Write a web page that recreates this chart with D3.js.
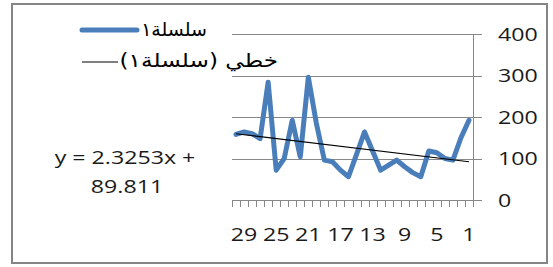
<!DOCTYPE html>
<html>
<head>
<meta charset="utf-8">
<script src="https://cdn.jsdelivr.net/npm/d3@7"></script>
<style>
  html, body { margin: 0; padding: 0; background: #fff; }
  svg { display: block; }
</style>
</head>
<body>
<svg id="chart" width="553" height="267"></svg>
<script>
// data (category 1 is on the right, axis reversed)
var categories = [1, 2, 3, 4, 5, 6, 7, 8, 9, 10, 11, 12, 13, 14, 15,
                  16, 17, 18, 19, 20, 21, 22, 23, 24, 25, 26, 27, 28, 29, 30];
var values = [192, 150, 96, 100, 114, 118, 56, 66, 80, 96, 84, 72, 118, 164, 110,
              56, 72, 92, 96, 185, 296, 104, 192, 100, 72, 284, 148, 160, 164, 158];
var xTickLabels = [29, 25, 21, 17, 13, 9, 5, 1];
var yTickLabels = [0, 100, 200, 300, 400];
var trendSlope = 2.3253;
var trendIntercept = 89.811;
var seriesName = "سلسلة١";
var trendName = "خطي (سلسلة١)";

var svg = d3.select("#chart");
var SX = 1.22; // the picture's text is a bit wider than the font
var numFont = "'Open Sans', sans-serif";
var arFont = "'DejaVu Sans', sans-serif";
var grey = "#878787";

var plot = { left: 232, right: 473, top: 34, bottom: 200 };

var x = d3.scaleLinear()
    .domain([categories.length + 0.5, 0.5])
    .range([plot.left, plot.right]);

var y = d3.scaleLinear()
    .domain([0, 400])
    .range([plot.bottom, plot.top]);

// outer frame
svg.append("rect")
    .attr("x", 12).attr("y", 4)
    .attr("width", 535).attr("height", 259)
    .attr("fill", "none")
    .attr("stroke", "#858585")
    .attr("stroke-width", 2);

function stretchedText(sel, tx, ty, str, size, anchor) {
    return sel.append("text")
        .attr("transform", "translate(" + tx + "," + ty + ") scale(" + SX + ",1)")
        .attr("text-anchor", anchor)
        .style("font-family", numFont)
        .style("font-size", size + "px")
        .attr("fill", "#1a1a1a")
        .text(str);
}

// gridlines
svg.selectAll(".grid")
    .data(yTickLabels.filter(function(d) { return d > 0; }))
    .enter().append("line")
    .attr("class", "grid")
    .attr("x1", plot.left).attr("x2", plot.right)
    .attr("y1", function(d) { return Math.round(y(d)) + 0.5; })
    .attr("y2", function(d) { return Math.round(y(d)) + 0.5; })
    .attr("stroke", grey)
    .attr("stroke-width", 1);

// right value axis
svg.append("line")
    .attr("x1", plot.right + 0.5).attr("x2", plot.right + 0.5)
    .attr("y1", plot.top).attr("y2", plot.bottom + 6)
    .attr("stroke", grey);

yTickLabels.forEach(function(d) {
    var yy = Math.round(y(d)) + 0.5;
    svg.append("line")
        .attr("x1", plot.right - 3).attr("x2", plot.right + 9)
        .attr("y1", yy).attr("y2", yy)
        .attr("stroke", grey);
    stretchedText(svg, 498, y(d) + 6.8, d, 19, "start");
});

// category axis
svg.append("line")
    .attr("x1", plot.left).attr("x2", plot.right + 9)
    .attr("y1", plot.bottom + 0.5).attr("y2", plot.bottom + 0.5)
    .attr("stroke", grey);

d3.range(0.5, categories.length + 1, 1).forEach(function(c) {
    var xx = Math.round(x(c)) + 0.5;
    svg.append("line")
        .attr("x1", xx).attr("x2", xx)
        .attr("y1", plot.bottom).attr("y2", plot.bottom + 7)
        .attr("stroke", grey);
});

xTickLabels.forEach(function(c) {
    stretchedText(svg, x(c), 241, c, 19, "middle");
});

// series line
var line = d3.line()
    .x(function(d, i) { return x(categories[i]); })
    .y(function(d) { return y(d); });

svg.append("path")
    .datum(values)
    .attr("d", line)
    .attr("fill", "none")
    .attr("stroke", "#4a7ebb")
    .attr("stroke-width", 5)
    .attr("stroke-linejoin", "round")
    .attr("stroke-linecap", "round");

// linear trendline
var first = categories[0], last = categories[categories.length - 1];
svg.append("line")
    .attr("x1", x(first)).attr("y1", y(trendSlope * first + trendIntercept))
    .attr("x2", x(last)).attr("y2", y(trendSlope * last + trendIntercept))
    .attr("stroke", "#000")
    .attr("stroke-width", 1.2);

// trendline equation
stretchedText(svg, 125, 164, "y = " + trendSlope + "x +", 19, "middle");
stretchedText(svg, 127, 193, trendIntercept, 19, "middle");

// legend
svg.append("line")
    .attr("x1", 82).attr("x2", 137)
    .attr("y1", 30).attr("y2", 30)
    .attr("stroke", "#4a7ebb")
    .attr("stroke-width", 5)
    .attr("stroke-linecap", "round");
svg.append("text")
    .attr("x", 207).attr("y", 36)
    .attr("direction", "rtl")
    .attr("text-anchor", "start")
    .style("font-family", arFont)
    .style("font-size", "19px")
    .attr("fill", "#000")
    .text(seriesName);

svg.append("line")
    .attr("x1", 82).attr("x2", 118)
    .attr("y1", 62).attr("y2", 62)
    .attr("stroke", "#000")
    .attr("stroke-width", 1.2);
svg.append("text")
    .attr("transform", "translate(278,67) scale(" + SX + ",1)")
    .attr("direction", "rtl")
    .attr("text-anchor", "start")
    .style("font-family", arFont)
    .style("font-size", "19px")
    .attr("fill", "#000")
    .text(trendName);
</script>
</body>
</html>
